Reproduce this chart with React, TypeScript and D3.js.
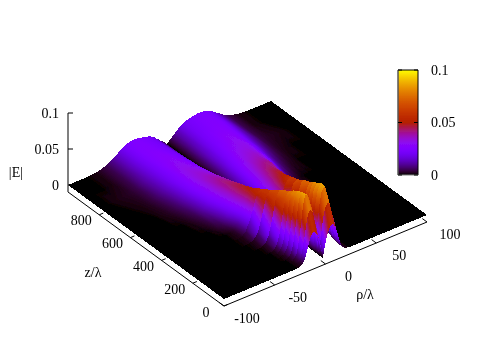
import React, { useMemo } from "react";
import * as d3 from "d3";

// |E| in thousandths, one row per z/λ, columns follow rhoColumns (distance from the null, mirrored on its low side)
const rhoColumns = [0, 2, 4, 6, 8, 10, 12, 14, 16, 18, 20, 23, 26, 30, 34, 38, 42, 46, 50, 55, 60, 65, 70, 80, 90, 100];
const zRows = [0, 25, 50, 75, 100, 125, 150, 200, 250, 300, 350, 400, 500, 600, 700, 800, 900, 1000];
const nullRho = -2.5;

const row0 = [0, 17, 29, 37, 41, 42, 37, 28, 17, 8, 3, 1, 0, 0, 0, 0, 0, 0, 0, 0, 0, 0, 0, 0, 0, 0];
const row25 = [0, 28, 49, 62, 67, 67, 56, 37, 20, 8, 3, 1, 0, 0, 0, 0, 0, 0, 0, 0, 0, 0, 0, 0, 0, 0];
const row50 = [0, 36, 62, 79, 85, 85, 71, 47, 25, 10, 4, 1, 0, 0, 0, 0, 0, 0, 0, 0, 0, 0, 0, 0, 0, 0];
const row75 = [0, 35, 60, 77, 84, 86, 77, 57, 35, 16, 6, 2, 0, 0, 0, 0, 0, 0, 0, 0, 0, 0, 0, 0, 0, 0];
const row100 = [0, 32, 56, 73, 80, 83, 78, 62, 42, 22, 10, 3, 1, 0, 0, 0, 0, 0, 0, 0, 0, 0, 0, 0, 0, 0];
const row125 = [0, 29, 52, 68, 76, 80, 77, 67, 48, 29, 14, 4, 1, 0, 0, 0, 0, 0, 0, 0, 0, 0, 0, 0, 0, 0];
const row150 = [0, 26, 47, 63, 71, 75, 74, 68, 53, 34, 19, 6, 2, 0, 0, 0, 0, 0, 0, 0, 0, 0, 0, 0, 0, 0];
const row200 = [0, 23, 42, 55, 63, 69, 70, 66, 58, 44, 29, 12, 4, 1, 0, 0, 0, 0, 0, 0, 0, 0, 0, 0, 0, 0];
const row250 = [0, 18, 34, 45, 55, 60, 62, 62, 59, 53, 41, 24, 10, 3, 1, 0, 0, 0, 0, 0, 0, 0, 0, 0, 0, 0];
const row300 = [0, 15, 28, 39, 47, 52, 55, 57, 56, 53, 48, 33, 20, 7, 2, 1, 0, 0, 0, 0, 0, 0, 0, 0, 0, 0];
const row350 = [0, 12, 23, 33, 40, 45, 48, 50, 51, 50, 46, 36, 24, 10, 3, 1, 0, 0, 0, 0, 0, 0, 0, 0, 0, 0];
const row400 = [0, 10, 19, 28, 34, 39, 43, 45, 47, 47, 46, 41, 33, 21, 11, 5, 3, 1, 0, 0, 0, 0, 0, 0, 0, 0];
const row500 = [0, 7, 14, 20, 25, 30, 34, 37, 39, 40, 41, 41, 39, 32, 24, 16, 10, 5, 3, 1, 0, 0, 0, 0, 0, 0];
const row600 = [0, 6, 11, 15, 20, 24, 27, 29, 32, 33, 34, 35, 35, 33, 28, 23, 16, 11, 7, 4, 2, 1, 0, 0, 0, 0];
const row700 = [0, 4, 8, 12, 16, 19, 22, 24, 26, 28, 29, 30, 31, 31, 29, 24, 20, 15, 11, 7, 4, 2, 1, 0, 0, 0];
const row800 = [0, 4, 7, 11, 14, 16, 19, 21, 23, 24, 25, 27, 28, 28, 27, 25, 21, 17, 13, 9, 5, 3, 2, 1, 0, 0];
const row900 = [0, 3, 6, 9, 12, 14, 17, 19, 21, 22, 23, 24, 25, 26, 26, 25, 22, 18, 14, 9, 5, 3, 1, 0, 0, 0];
const row1000 = [0, 3, 6, 8, 11, 13, 16, 18, 20, 21, 22, 23, 24, 25, 25, 24, 22, 18, 14, 9, 5, 3, 1, 0, 0, 0];

const halfRows = [row0, row25, row50, row75, row100, row125, row150, row200, row250, row300, row350, row400, row500, row600, row700, row800, row900, row1000];

const rhoTicks = [-100, -50, 0, 50, 100];
const zTicks = [0, 200, 400, 600, 800];
const eTicks = [0, 0.05, 0.1];
const eTickLabels = ["0", "0.05", "0.1"];

const fontFamily = "Liberation Serif";
const textFill = "#000";

// axes of the 3d box, screen offsets from the front corner
const originX = 224;
const originY = 299;
const baseDrop = 7;
const xByRho = d3.scaleLinear().domain([-100, 100]).range([0, 203]);
const yByRho = d3.scaleLinear().domain([-100, 100]).range([0, -84]);
const xByZ = d3.scaleLinear().domain([0, 1000]).range([0, -156]);
const yByZ = d3.scaleLinear().domain([0, 1000]).range([0, -114]);
const yByE = d3.scaleLinear().domain([0, 0.1]).range([0, -72]);

const px = (rho: number, z: number) => originX + xByRho(rho) + xByZ(z);
const py = (rho: number, z: number, e: number) => originY + yByRho(rho) + yByZ(z) + yByE(e);

// gnuplot default palette 7,5,15
const paletteColor = (x: number) => {
  const t = Math.max(0, Math.min(1, x));
  const r = Math.sqrt(t);
  const g = t * t * t;
  const b = Math.max(0, Math.sin(2 * Math.PI * t));
  return d3.rgb(r * 255, g * 255, b * 255).formatHex();
};
const shade = (thousandths: number) => paletteColor(thousandths / 100);

const rhoAll = [...rhoColumns.slice(1).reverse().map((d) => -d), ...rhoColumns].map((d) =>
  Math.abs(d) === 100 ? d : d + nullRho
);
const mirrored = (row: number[]) => [...row.slice(1).reverse(), ...row];

type Vertex = { x: number; y: number; s: number };
type Tri = { id: string; pts: string; flat?: string; x1?: number; y1?: number; x2?: number; y2?: number; stops?: string[] };

const makeTri = (id: string, a: Vertex, b: Vertex, c: Vertex): Tri => {
  const pts = [a, b, c].map((p) => `${p.x.toFixed(2)},${p.y.toFixed(2)}`).join(" ");
  const lo = Math.min(a.s, b.s, c.s);
  const hi = Math.max(a.s, b.s, c.s);
  const det = (b.x - a.x) * (c.y - a.y) - (c.x - a.x) * (b.y - a.y);
  if (hi - lo < 0.4 || Math.abs(det) < 1e-6) return { id, pts, flat: shade((a.s + b.s + c.s) / 3) };
  const gx = ((b.s - a.s) * (c.y - a.y) - (c.s - a.s) * (b.y - a.y)) / det;
  const gy = ((c.s - a.s) * (b.x - a.x) - (b.s - a.s) * (c.x - a.x)) / det;
  const g2 = gx * gx + gy * gy;
  const start = [a, b, c].find((p) => p.s === lo)!;
  const n = Math.min(8, Math.ceil((hi - lo) / 4) + 1);
  return {
    id,
    pts,
    x1: start.x,
    y1: start.y,
    x2: start.x + (gx / g2) * (hi - lo),
    y2: start.y + (gy / g2) * (hi - lo),
    stops: d3.range(n + 1).map((k) => shade(lo + ((hi - lo) * k) / n)),
  };
};

const buildSurface = () => {
  const tris: Tri[] = [];
  // far rows first, then from high rho to low rho: the camera is at the low z, low rho corner
  for (let i = zRows.length - 2; i >= 0; i--) {
    const near = mirrored(halfRows[i]);
    const far = mirrored(halfRows[i + 1]);
    const flatInZ = zRows[i] < 300;
    for (let j = rhoAll.length - 2; j >= 0; j--) {
      const corner = (row: number[], z: number, col: number): Vertex => ({
        x: px(rhoAll[col], z),
        y: py(rhoAll[col], z, row[col] / 1000),
        s: flatInZ ? (near[col] + far[col]) / 2 : row[col],
      });
      const a = corner(far, zRows[i + 1], j);
      const b = corner(far, zRows[i + 1], j + 1);
      const c = corner(near, zRows[i], j + 1);
      const d = corner(near, zRows[i], j);
      tris.push(makeTri(`t${i}-${j}-a`, a, b, c));
      tris.push(makeTri(`t${i}-${j}-b`, a, c, d));
    }
  }
  return tris;
};

const Label = ({ x, y, anchor = "middle", children }: any) => (
  <text x={x} y={y} textAnchor={anchor} dominantBaseline="central" fontFamily={fontFamily} fontSize={14} fill={textFill}>
    {children}
  </text>
);

export default function App() {
  const tris = useMemo(buildSurface, []);
  const barScale = d3.scaleLinear().domain([0, 0.1]).range([175, 70]);
  const barStops = d3.range(0, 41).map((k) => k / 40);
  const rhoAxisY = (rho: number) => py(rho, 0, 0) + baseDrop;
  const zAxisY = (z: number) => py(-100, z, 0) + baseDrop;
  return (
    <svg width={498} height={349} style={{ position: "absolute", left: 0, top: 0 }}>
      <defs>
        <filter id="soft" x="-5%" y="-5%" width="110%" height="110%">
          <feGaussianBlur stdDeviation={0.45} />
        </filter>
        <filter id="softText" x="-5%" y="-5%" width="110%" height="110%">
          <feGaussianBlur stdDeviation={0.3} />
        </filter>
        <linearGradient id="bar" x1={0} y1={1} x2={0} y2={0}>
          {barStops.map((k) => (
            <stop key={k} offset={k} stopColor={paletteColor(k)} />
          ))}
        </linearGradient>
      </defs>
      <rect width={498} height={349} fill="#fff" />
      <g filter="url(#soft)" shapeRendering="crispEdges">
        {tris.map((t) => (
          <g key={t.id}>
            {t.stops && (
              <linearGradient id={t.id} gradientUnits="userSpaceOnUse" x1={t.x1} y1={t.y1} x2={t.x2} y2={t.y2}>
                {t.stops.map((c, k) => (
                  <stop key={k} offset={k / (t.stops!.length - 1)} stopColor={c} />
                ))}
              </linearGradient>
            )}
            <polygon points={t.pts} fill={t.flat ?? `url(#${t.id})`} />
          </g>
        ))}
      </g>

      <g filter="url(#softText)">
        {/* base axes */}
        <line x1={px(-100, 0)} y1={rhoAxisY(-100)} x2={px(100, 0)} y2={rhoAxisY(100)} stroke="#000" strokeWidth={1} />
        <line x1={px(-100, 0)} y1={zAxisY(0)} x2={px(-100, 1000)} y2={zAxisY(1000)} stroke="#000" strokeWidth={1} />
        {rhoTicks.map((t) => (
          <line key={t} x1={px(t, 0)} y1={rhoAxisY(t)} x2={px(t, 30)} y2={rhoAxisY(t) + yByZ(30)} stroke="#000" />
        ))}
        {zTicks.map((t) => (
          <line key={t} x1={px(-100, t)} y1={zAxisY(t)} x2={px(-96, t)} y2={zAxisY(t) + yByRho(-96)} stroke="#000" />
        ))}
        {rhoTicks.map((t) => (
          <Label key={t} x={px(t, 0) + 23} y={rhoAxisY(t) + 12}>
            {t}
          </Label>
        ))}
        {zTicks.map((t) => (
          <Label key={t} x={px(-100, t) - 18} y={zAxisY(t) + 6}>
            {t}
          </Label>
        ))}
        <Label x={365} y={294}>ρ/λ</Label>
        <Label x={93} y={272}>z/λ</Label>

        {/* vertical axis */}
        <line x1={68} y1={yByE(0.1) + 185} x2={68} y2={192} stroke="#808080" strokeWidth={2} />
        {eTicks.map((t, i) => (
          <g key={t}>
            <line x1={68} x2={73} y1={yByE(t) + 185} y2={yByE(t) + 185} stroke="#000" />
            <Label x={59} y={yByE(t) + 185} anchor="end">
              {eTickLabels[i]}
            </Label>
          </g>
        ))}
        <Label x={23} y={172} anchor="end">|E|</Label>

        {/* colour box */}
        <rect x={398} y={barScale(0.1)} width={20} height={barScale(0) - barScale(0.1)} fill="url(#bar)" />
        <path d={`M398 175V70H418V175`} fill="none" stroke="#000" />
        <path d={`M398 70V175H418`} fill="none" stroke="#808080" />
        {eTicks.map((t, i) => (
          <g key={t}>
            <line x1={398} x2={402} y1={barScale(t)} y2={barScale(t)} stroke="#000" />
            <line x1={414} x2={418} y1={barScale(t)} y2={barScale(t)} stroke="#000" />
            <Label x={431} y={barScale(t)} anchor="start">
              {eTickLabels[i]}
            </Label>
          </g>
        ))}
      </g>
    </svg>
  );
}
